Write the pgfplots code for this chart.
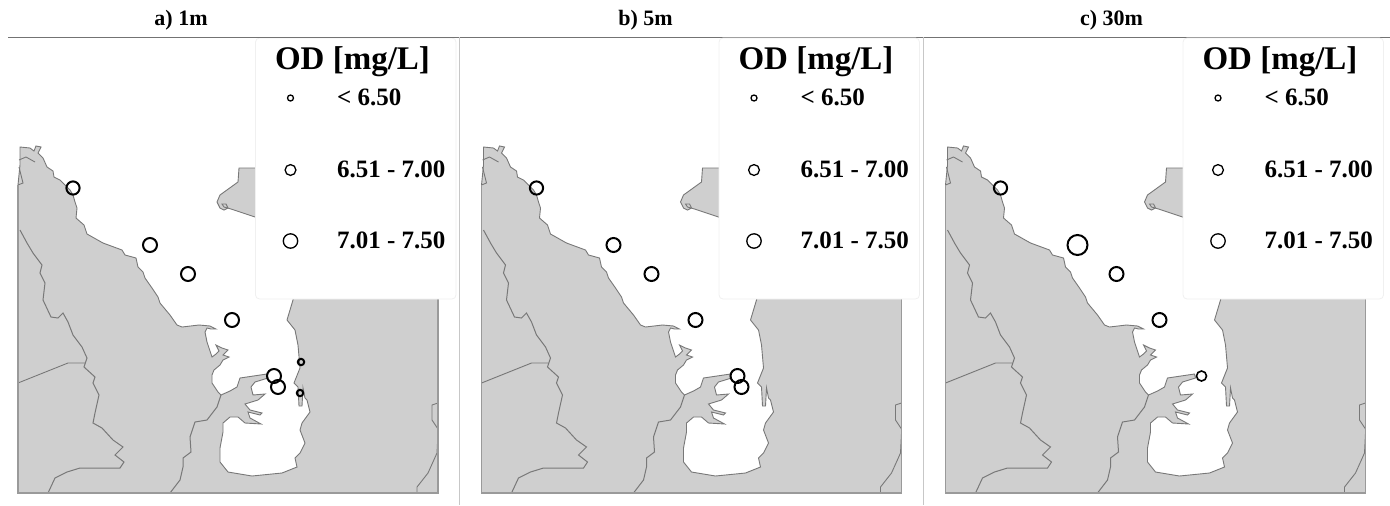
\documentclass[border=0pt]{standalone}
\usepackage{fontspec}
\setmainfont{Liberation Serif}
\usepackage{pgfplots}
\pgfplotsset{compat=1.18}
\definecolor{land}{HTML}{CFCFCF}
\definecolor{coast}{HTML}{787878}
\definecolor{frameg}{HTML}{9A9A9A}
\newcommand\landplots{
\addplot[fill=land,draw=coast,line width=0.45pt] coordinates {
(20,147)(30,148)(34,151)(36,146)(41,147)(38,153)(43,158)(47,167)(53,171)(54,177)(60,180)(65,185)(70,190)(73,195)(75,202)(77,208)(76,218)(84,225)(87,234)(103,243)(122,250)(125,255)(136,258)(138,267)(143,272)(145,278)(152,288)(158,297)(160,303)(170,315)(177,325)(182,327)(199,325)(210,326)(216,329)(211,329)(207,328)(205,332)(207,342)(210,351)(212,357)(216,354)(219,351)(216,345)(222,348)(228,350)(223,355)(229,357)(223,360)(220,365)(214,370)(212,375)(212,383)(218,392)(221,395)(230,391)(237,387)(240,378)(267,374)(268,378)(255,382)(251,387)(253,395)(265,394)(258,400)(245,404)(250,410)(262,413)(260,415)(248,412)(250,418)(261,424)(245,423)(238,417)(230,417)(223,423)(223,432)(220,448)(220,462)(228,472)(252,476)(282,473)(297,467)(295,458)(300,453)(305,443)(300,430)(302,423)(310,412)(307,400)(305,398)(303,388)(302,406)(299,406)(298,387)(294,383)(300,368)(298,345)(295,330)(287,320)(293,300)(295,285)(438,285)(438,493)(18,493)(18,185)(20,165)(20,147)} -- cycle;
\addplot[fill=land,draw=coast,line width=0.45pt] coordinates {
(270,168)(239,168)(238,182)(220,195)(217,202)(220,208)(224,210)(228,208)(226,204)(222,204)(224,207)(231,209)(270,222)} -- cycle;
\addplot[draw=coast,line width=0.5pt] coordinates {
(20,230)(27,243)(33,253)(42,265)(40,273)(45,283)(43,300)(51,317)(58,318)(63,313)(68,322)(73,335)(82,347)(87,358)(84,367)(95,377)(93,383)(99,395)(95,413)(93,423)(102,428)(113,440)(123,447)(115,455)(124,462)(120,468)(100,468)(80,468)(67,472)(55,478)(48,493)};
\addplot[draw=coast,line width=0.45pt] coordinates {(18,383)(68,363)(85,363)};
\addplot[draw=coast,line width=0.5pt] coordinates {
(221,395)(217,407)(207,420)(195,422)(190,437)(191,452)(183,458)(183,467)(180,480)(170,493)};
\addplot[draw=coast,line width=0.45pt] coordinates {(438,403)(432,405)(432,420)(438,429)};
\addplot[draw=coast,line width=0.45pt] coordinates {(438,433)(437,453)(428,473)(417,487)(417,493)};
\addplot[draw=coast,line width=0.45pt] coordinates {(19,167)(23,183)(18,185)};
\addplot[draw=coast,line width=0.45pt] coordinates {(19,160)(26,157)(35,162)};
\addplot[draw=frameg,line width=0.7pt] coordinates {(18,185)(18,493)(438,493)(438,285)};
% legend box
\addplot[fill=white,draw=black!6,line width=0.4pt,rounded corners=2pt] coordinates {(255.5,38)(456,38)(456,299)(255.5,299)} -- cycle;
% legend markers
\addplot[only marks,mark=o,mark size=1.5pt,mark options={black,line width=0.65pt}] coordinates {(290.5,98)};
\addplot[only marks,mark=o,mark size=2.7pt,mark options={black,line width=0.65pt}] coordinates {(290.5,170)};
\addplot[only marks,mark=o,mark size=3.6pt,mark options={black,line width=0.65pt}] coordinates {(290.5,241)};
}
\newcommand\legendtext{
\node[font=\bfseries\fontsize{16.5}{18}\selectfont] at (axis cs:352.5,62) {OD [mg/L]};
\node[font=\bfseries\fontsize{12.5}{14}\selectfont,anchor=west] at (axis cs:330,97) {< 6.50};
\node[font=\bfseries\fontsize{12.5}{14}\selectfont,anchor=west] at (axis cs:330,169) {6.51 - 7.00};
\node[font=\bfseries\fontsize{12.5}{14}\selectfont,anchor=west] at (axis cs:330,240) {7.01 - 7.50};
}
\begin{document}
\begin{tikzpicture}[x=1pt,y=1pt]
\path[use as bounding box] (0,0) rectangle (695pt,252.5pt);
% panel a
\begin{axis}[at={(0pt,0pt)},anchor=south west,scale only axis,width=231.75pt,height=252.5pt,xmin=0,xmax=463.5,ymin=0,ymax=505,y dir=reverse,hide axis,clip=false]
\landplots
\addplot[only marks,mark=o,mark size=3.3pt,mark options={black,line width=1pt}] coordinates {(73,188)};
\addplot[only marks,mark=o,mark size=3.5pt,mark options={black,line width=1pt}] coordinates {(150,245)(188,274)(232,320)(274,376)(278,387)};
\addplot[only marks,mark=o,mark size=1.6pt,mark options={black,line width=1pt}] coordinates {(301,362)(300,393)};
\legendtext
\draw[black!55,line width=0.5pt] (axis cs:8,37) -- (axis cs:1390,37);
\draw[black!22,line width=0.5pt] (axis cs:459,37) -- (axis cs:459,505);
\draw[black!22,line width=0.5pt] (axis cs:923,37) -- (axis cs:923,505);
\node[font=\bfseries\fontsize{11}{12}\selectfont] at (axis cs:181,20) {a) 1m};
\end{axis}
% panel b
\begin{axis}[at={(231.75pt,0pt)},anchor=south west,scale only axis,width=231.75pt,height=252.5pt,xmin=0,xmax=463.5,ymin=0,ymax=505,y dir=reverse,hide axis,clip=false]
\landplots
\addplot[only marks,mark=o,mark size=3.3pt,mark options={black,line width=1pt}] coordinates {(73,188)};
\addplot[only marks,mark=o,mark size=3.5pt,mark options={black,line width=1pt}] coordinates {(150,245)(188,274)(232,320)(274,376)(278,387)};
\legendtext
\node[font=\bfseries\fontsize{11}{12}\selectfont] at (axis cs:182,20) {b) 5m};
\end{axis}
% panel c
\begin{axis}[at={(463.75pt,0pt)},anchor=south west,scale only axis,width=231.75pt,height=252.5pt,xmin=0,xmax=463.5,ymin=0,ymax=505,y dir=reverse,hide axis,clip=false]
\landplots
\addplot[only marks,mark=o,mark size=3.3pt,mark options={black,line width=1pt}] coordinates {(73,188)};
\addplot[only marks,mark=o,mark size=3.5pt,mark options={black,line width=1pt}] coordinates {(189,274)(232,320)};
\addplot[only marks,mark=o,mark size=5pt,mark options={black,line width=1pt}] coordinates {(150,245)};
\addplot[only marks,mark=o,mark size=2.5pt,mark options={black,line width=0.8pt}] coordinates {(274,376)};
\legendtext
\node[font=\bfseries\fontsize{11}{12}\selectfont] at (axis cs:184,20) {c) 30m};
\end{axis}
\end{tikzpicture}
\end{document}
